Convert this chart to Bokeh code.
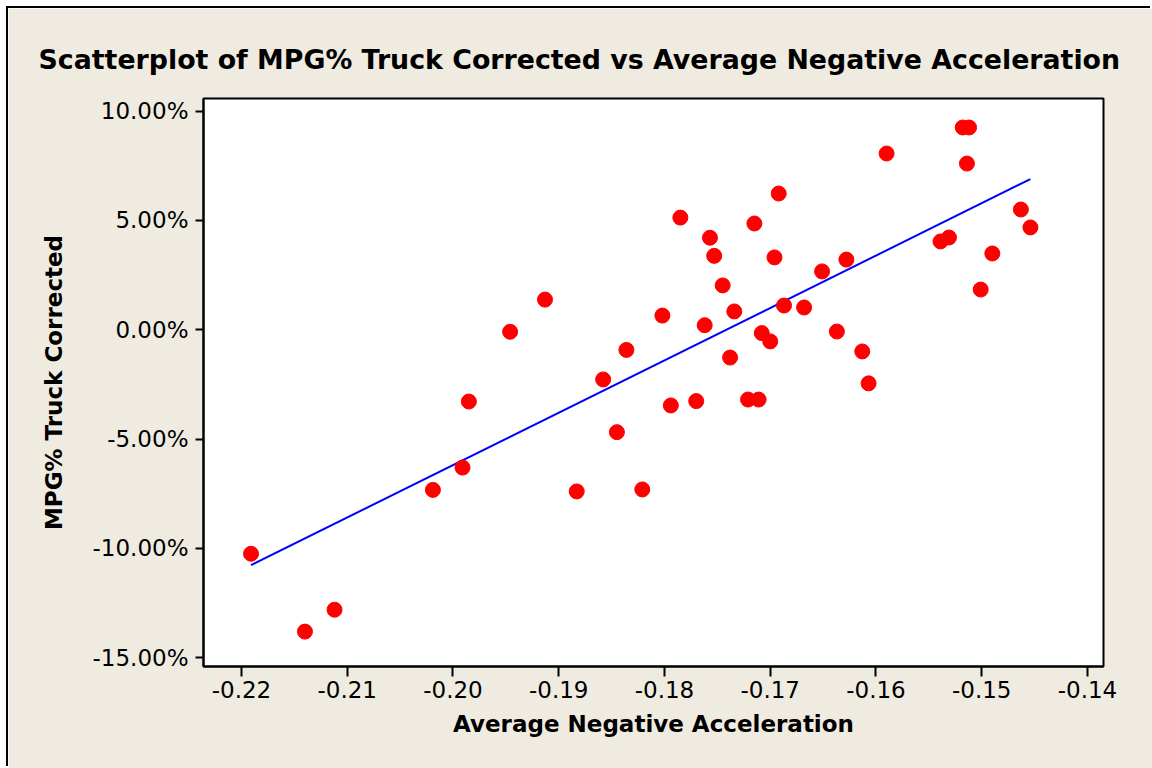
import numpy as np
from bokeh.plotting import figure
from bokeh.models import Range1d, NumeralTickFormatter, FixedTicker
from bokeh.embed import file_html
from bokeh.resources import INLINE

# Average negative acceleration (x) and MPG% truck corrected (y, in percent)
accel = [-0.2191, -0.2140, -0.2112, -0.2019, -0.1991, -0.1985, -0.1946, -0.1913,
         -0.1883, -0.1858, -0.1845, -0.1836, -0.1821, -0.1802, -0.1794, -0.1785,
         -0.1770, -0.1762, -0.1757, -0.1753, -0.1745, -0.1738, -0.1734, -0.1721,
         -0.1715, -0.1711, -0.1708, -0.1700, -0.1696, -0.1692, -0.1687, -0.1668,
         -0.1651, -0.1637, -0.1628, -0.1613, -0.1607, -0.1590, -0.1539, -0.1531,
         -0.1518, -0.1512, -0.1514, -0.1501, -0.1490, -0.1463, -0.1454]
mpg_pct = [-10.24, -13.80, -12.80, -7.32, -6.30, -3.28, -0.09, 1.38,
           -7.39, -2.27, -4.68, -0.92, -7.30, 0.65, -3.46, 5.13,
           -3.26, 0.21, 4.21, 3.38, 2.03, -1.27, 0.84, -3.19,
           4.86, -3.19, -0.15, -0.53, 3.31, 6.23, 1.11, 1.02,
           2.67, -0.08, 3.21, -0.99, -2.45, 8.06, 4.04, 4.22,
           9.25, 9.25, 7.60, 1.84, 3.49, 5.50, 4.68]

x_ticks = [-0.22, -0.21, -0.20, -0.19, -0.18, -0.17, -0.16, -0.15, -0.14]
y_ticks_pct = [-15, -10, -5, 0, 5, 10]

title_text = "Scatterplot of MPG% Truck Corrected vs Average Negative Acceleration"
x_label = "Average Negative Acceleration"
y_label = "MPG% Truck Corrected"

x = np.array(accel)
y = np.array(mpg_pct) / 100.0

# least squares regression line across the data's x extent
slope, intercept = np.polyfit(x, y, 1)
fit_x = np.array([x.min(), x.max()])
fit_y = slope * fit_x + intercept

BG = "#EFEBE1"
FONT = "DejaVu Sans"

p = figure(width=1144, height=760, frame_width=900, frame_height=568,
           output_backend="svg", toolbar_location=None,
           x_range=Range1d(-0.223593, -0.138487),
           y_range=Range1d(-0.15396, 0.10576),
           min_border_left=195, min_border_right=49,
           min_border_top=90, min_border_bottom=102)

p.background_fill_color = "white"
p.border_fill_color = BG
p.outline_line_color = "black"
p.outline_line_width = 2
p.grid.visible = False
p.styles = {"margin-left": "8px", "margin-top": "8px",
            "box-shadow": "-2px -2px 0 0 #000000"}

p.title.text = title_text
p.title.text_font = FONT
p.title.text_font_size = "26.8px"
p.title.text_font_style = "bold"
p.title.text_color = "black"
p.title.align = "left"
p.title.offset = -165
p.title.standoff = 48

p.line(fit_x, fit_y, line_color="#0000FF", line_width=2)
p.scatter(x, y, size=15, fill_color="#FF0000", line_color="#FF0000")

for ax in (p.xaxis[0], p.yaxis[0]):
    ax.axis_line_color = "black"
    ax.axis_line_width = 2
    ax.major_tick_line_color = "black"
    ax.major_tick_line_width = 2
    ax.major_tick_in = 0
    ax.minor_tick_line_color = None
    ax.major_label_text_font = FONT
    ax.major_label_text_font_size = "23px"
    ax.major_label_text_color = "black"
    ax.axis_label_text_font = FONT
    ax.axis_label_text_font_size = "23px"
    ax.axis_label_text_font_style = "bold"
    ax.axis_label_text_color = "black"

p.xaxis.ticker = FixedTicker(ticks=x_ticks)
p.xaxis.formatter = NumeralTickFormatter(format="0.00")
p.xaxis.major_tick_out = 10
p.xaxis.major_label_standoff = 4
p.xaxis.axis_label = x_label
p.xaxis.axis_label_standoff = 10

p.yaxis.ticker = FixedTicker(ticks=[v / 100.0 for v in y_ticks_pct])
p.yaxis.formatter = NumeralTickFormatter(format="0.00%")
p.yaxis.major_tick_out = 8
p.yaxis.major_label_standoff = 7
p.yaxis.axis_label = y_label
p.yaxis.axis_label_standoff = 23

open("out.html", "w").write(file_html(p, INLINE))
